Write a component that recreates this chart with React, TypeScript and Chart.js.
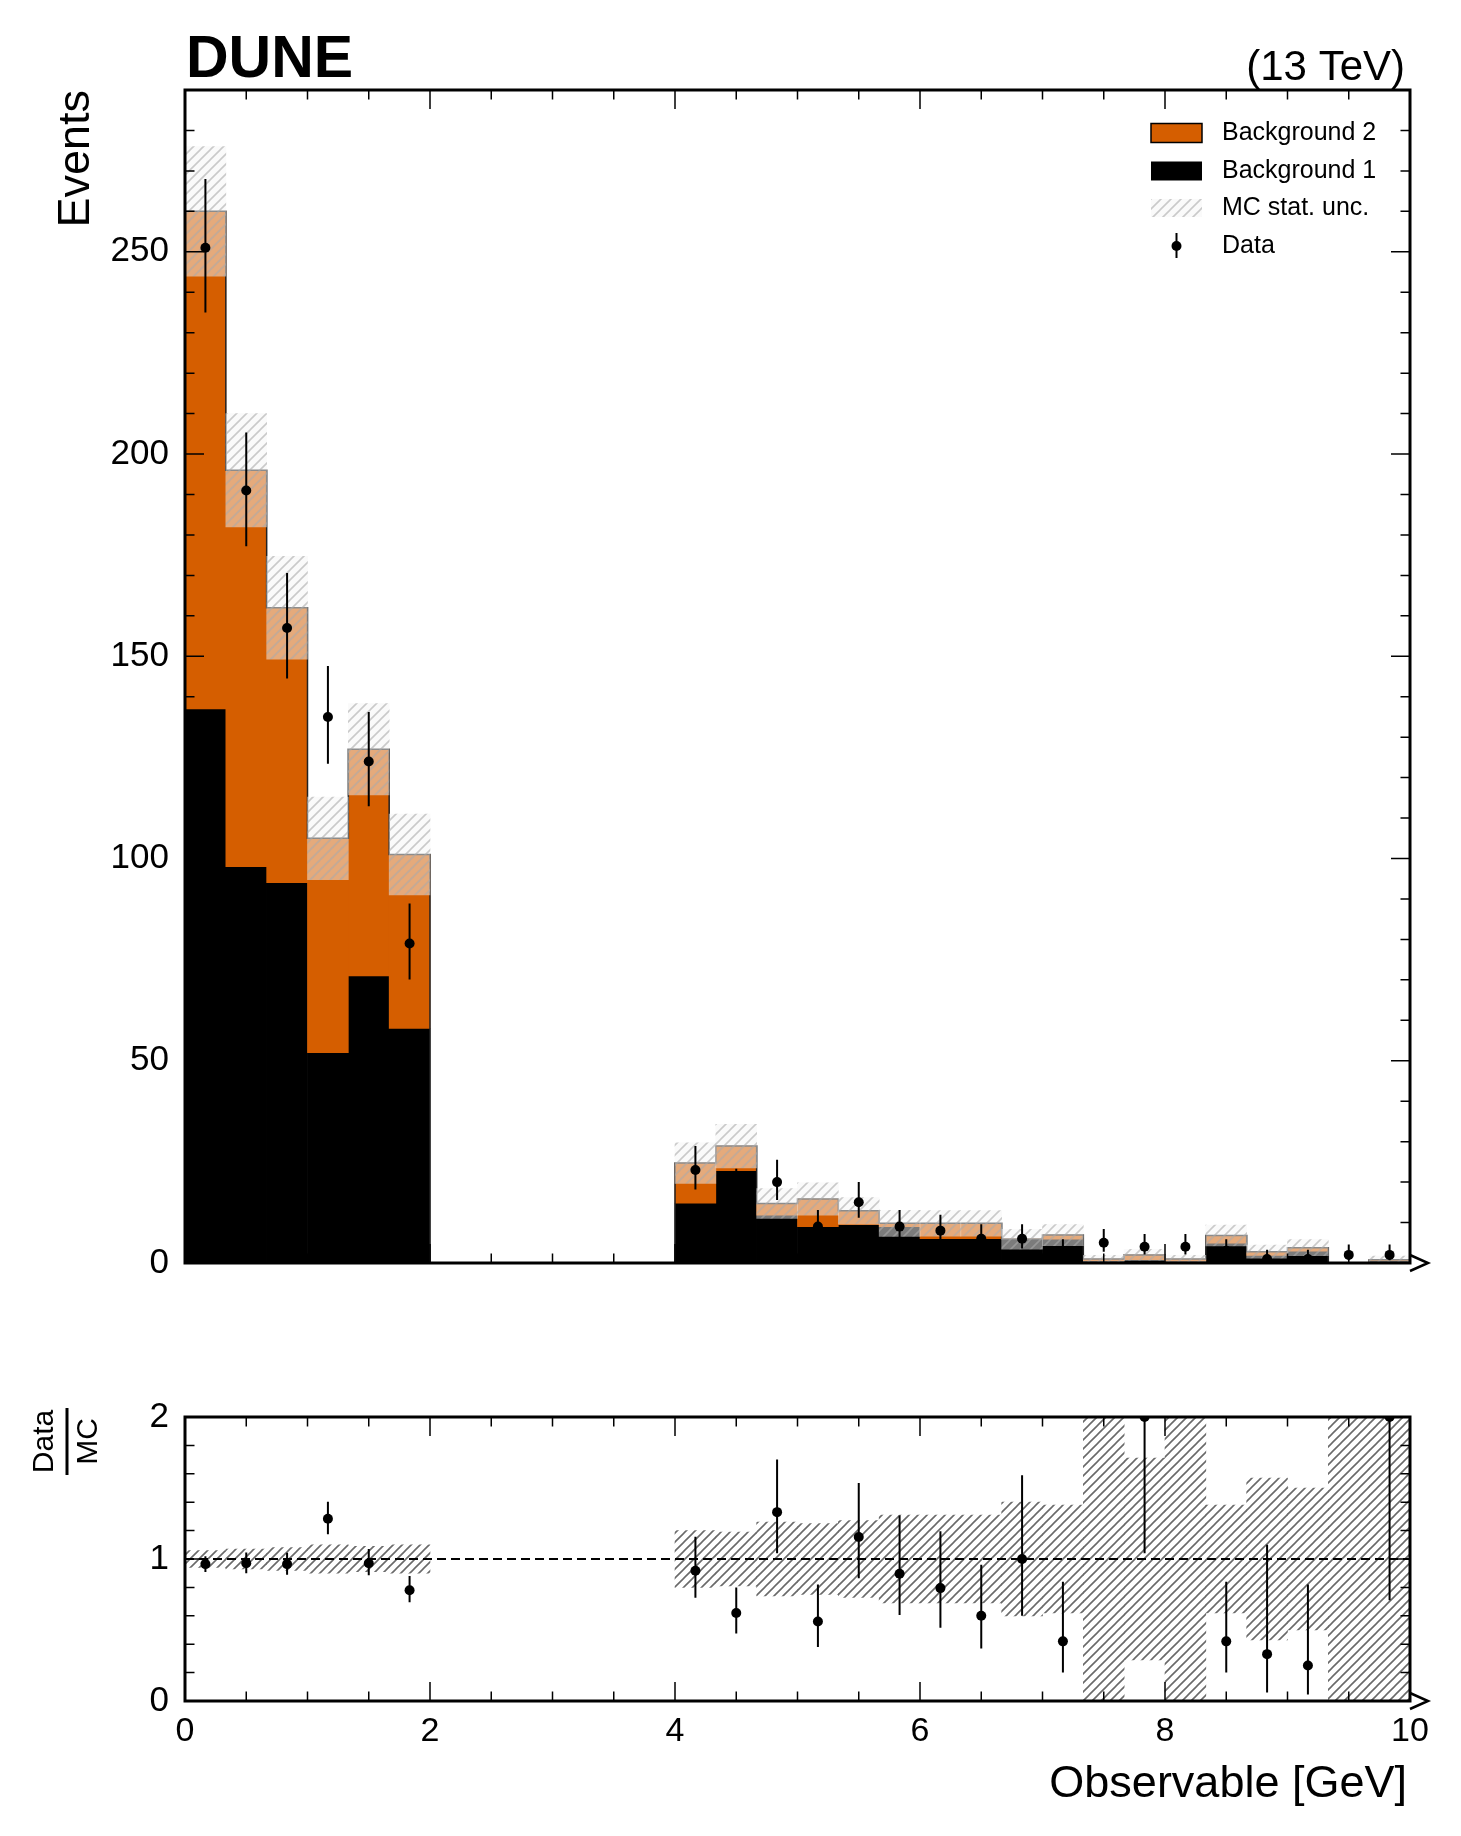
import { useEffect, useRef } from "react"
import Chart from "chart.js/auto"

const FONT = '"Liberation Sans", Arial, Helvetica, sans-serif'
const ORANGE = "#d55e00"

// 30 bins of the observable [GeV]
const binEdges = [
  0, 0.3333, 0.6667, 1, 1.3333, 1.6667, 2, 2.3333, 2.6667, 3, 3.3333, 3.6667,
  4, 4.3333, 4.6667, 5, 5.3333, 5.6667, 6, 6.3333, 6.6667, 7, 7.3333, 7.6667,
  8, 8.3333, 8.6667, 9, 9.3333, 9.6667, 10,
]

const background1 = [
  137, 98, 94, 52, 71, 58, 0, 0, 0, 0, 0, 0,
  14.8, 22.8, 11.8, 9.0, 9.5, 9.0, 6.0, 6.0, 5.9, 5.9, 0.6, 0.8, 0.5, 4.9, 1.9, 2.9, 0, 0.6,
]
const background2 = [
  123, 98, 68, 53, 56, 43, 0, 0, 0, 0, 0, 0,
  9.9, 6.1, 2.9, 6.8, 3.4, 0.8, 3.8, 3.8, 0, 1.0, 0.4, 1.2, 0.5, 1.9, 0.9, 0.9, 0, 0.2,
]
const mcStatUnc = [
  16, 14, 12.7, 10.2, 11.3, 10, 0, 0, 0, 0, 0, 0,
  5.0, 5.4, 3.7, 4.0, 3.3, 3.2, 3.15, 3.15, 2.45, 2.6, 0.9, 1.35, 0.9, 2.6, 1.6, 2.0, 0, 0.9,
]
const dataCounts = [
  251, 191, 157, 135, 124, 79, null, null, null, null, null, null,
  23, 18, 20, 9, 15, 9, 8, 6, 6, 3, 5, 4, 4, 3, 1, 1, 2, 2,
]
const dataErrUp = [
  17, 14.3, 13.6, 12.6, 12.2, 9.9, 0, 0, 0, 0, 0, 0,
  5.9, 5.3, 5.5, 4.1, 5.0, 4.1, 3.9, 3.6, 3.6, 2.9, 3.4, 3.2, 3.2, 2.9, 2.3, 2.3, 2.6, 2.6,
]
const dataErrDown = [
  16, 13.8, 12.5, 11.6, 11.1, 8.9, 0, 0, 0, 0, 0, 0,
  4.8, 4.2, 4.4, 2.9, 3.8, 2.9, 2.8, 2.4, 2.4, 1.6, 2.2, 1.9, 1.9, 1.6, 0.8, 0.8, 1.3, 1.3,
]

// Data / MC panel
const ratioValues = [
  0.964, 0.97, 0.964, 1.284, 0.97, 0.78, null, null, null, null, null, null,
  0.917, 0.62, 1.33, 0.56, 1.155, 0.896, 0.795, 0.6, 1.0, 0.42, null, 2.0, null, 0.42, 0.33, 0.25, null, 2.0,
]
const ratioErrUp = [
  0.055, 0.075, 0.08, 0.12, 0.1, 0.1, 0, 0, 0, 0, 0, 0,
  0.24, 0.18, 0.37, 0.26, 0.38, 0.41, 0.4, 0.36, 0.59, 0.42, 0, 0.9, 0, 0.42, 0.77, 0.57, 0, 0.9,
]
const ratioErrDown = [
  0.055, 0.07, 0.075, 0.11, 0.085, 0.085, 0, 0, 0, 0, 0, 0,
  0.19, 0.145, 0.29, 0.18, 0.29, 0.29, 0.28, 0.23, 0.4, 0.22, 0, 0.96, 0, 0.22, 0.27, 0.205, 0, 1.29,
]
const ratioBandUnc = [
  0.06, 0.07, 0.08, 0.1, 0.09, 0.1, 0, 0, 0, 0, 0, 0,
  0.2, 0.19, 0.26, 0.25, 0.27, 0.31, 0.31, 0.31, 0.4, 0.38, 1.0, 0.71, 1.0, 0.38, 0.57, 0.5, 1.0, 1.0,
]

const mainYTicks = [0, 50, 100, 150, 200, 250]
const ratioYTicks = [0, 1, 2]
const xTicks = [0, 2, 4, 6, 8, 10]

const centers = binEdges.slice(0, -1).map((e, i) => (e + binEdges[i + 1]) / 2)
const totals = background1.map((b, i) => b + background2[i])

function hatch(ctx: CanvasRenderingContext2D, size: number, fill: string | null, stroke: string, lw: number) {
  const c = document.createElement("canvas")
  c.width = size
  c.height = size
  const g = c.getContext("2d")!
  if (fill) {
    g.fillStyle = fill
    g.fillRect(0, 0, size, size)
  }
  g.strokeStyle = stroke
  g.lineWidth = lw
  g.beginPath()
  g.moveTo(0, size); g.lineTo(size, 0)
  g.moveTo(-size / 2, size / 2); g.lineTo(size / 2, -size / 2)
  g.moveTo(size / 2, size * 1.5); g.lineTo(size * 1.5, size / 2)
  g.stroke()
  return ctx.createPattern(c, "repeat")!
}

function drawFrame(chart: any, yTicks: number[], yMinor: number) {
  const { ctx, chartArea: a } = chart
  const xs = chart.scales.x
  const ys = chart.scales.y
  ctx.save()
  ctx.strokeStyle = "#000"
  ctx.lineWidth = 1.5
  ctx.beginPath()
  const nx = Math.round((xs.max - xs.min) / 0.5)
  for (let i = 0; i <= nx; i++) {
    const v = xs.min + i * 0.5
    const p = xs.getPixelForValue(v)
    const len = xTicks.some((t) => Math.abs(t - v) < 1e-6) ? 19 : 9.5
    ctx.moveTo(p, a.bottom); ctx.lineTo(p, a.bottom - len)
    ctx.moveTo(p, a.top); ctx.lineTo(p, a.top + len)
  }
  const ny = Math.floor((ys.max - ys.min) / yMinor + 1e-6)
  for (let i = 0; i <= ny; i++) {
    const v = ys.min + i * yMinor
    const p = ys.getPixelForValue(v)
    const len = yTicks.some((t) => Math.abs(t - v) < 1e-6) ? 19 : 9.5
    ctx.moveTo(a.left, p); ctx.lineTo(a.left + len, p)
    ctx.moveTo(a.right, p); ctx.lineTo(a.right - len, p)
  }
  ctx.stroke()
  ctx.lineWidth = 3
  ctx.strokeRect(a.left, a.top, a.right - a.left, a.bottom - a.top)
  ctx.lineWidth = 2.5
  ctx.beginPath()
  ctx.moveTo(a.right, a.bottom - 8)
  ctx.lineTo(a.right + 18, a.bottom)
  ctx.lineTo(a.right, a.bottom + 8)
  ctx.stroke()
  ctx.restore()
}

function drawErrors(chart: any, vals: (number | null)[], up: number[], down: number[]) {
  const { ctx, chartArea: a } = chart
  const xs = chart.scales.x
  const ys = chart.scales.y
  ctx.save()
  ctx.beginPath()
  ctx.rect(a.left, a.top, a.right - a.left, a.bottom - a.top)
  ctx.clip()
  ctx.strokeStyle = "#000"
  ctx.lineWidth = 2
  ctx.beginPath()
  vals.forEach((v, i) => {
    if (v == null) return
    const px = xs.getPixelForValue(centers[i])
    ctx.moveTo(px, ys.getPixelForValue(v + up[i]))
    ctx.lineTo(px, ys.getPixelForValue(v - down[i]))
  })
  ctx.stroke()
  ctx.restore()
}

const noAxis = { display: false, drawTicks: false }

export default function App() {
  const mainRef = useRef<HTMLCanvasElement>(null)
  const ratioRef = useRef<HTMLCanvasElement>(null)

  useEffect(() => {
    if (!mainRef.current || !ratioRef.current) return
    const mctx = mainRef.current.getContext("2d")!
    const rctx = ratioRef.current.getContext("2d")!
    const bandPattern = hatch(mctx, 10, "rgba(245,245,245,0.5)", "rgba(170,170,170,0.6)", 1.6)
    const legendPattern = hatch(mctx, 10, "rgba(245,245,245,0.5)", "rgba(170,170,170,0.6)", 1.6)
    const ratioPattern = hatch(rctx, 9, null, "#6a6a6a", 1.6)

    const barCommon = { grouped: false, barPercentage: 1, categoryPercentage: 1, borderWidth: 0 }

    const main = new Chart(mainRef.current, {
      type: "bar",
      data: {
        datasets: [
          {
            ...barCommon,
            label: "Background 1",
            data: centers.map((x, i) => ({ x, y: [0, background1[i]] })) as any,
            backgroundColor: "#000",
            order: 5,
          },
          {
            ...barCommon,
            label: "Background 2",
            data: centers.map((x, i) => ({ x, y: [background1[i], totals[i]] })) as any,
            backgroundColor: ORANGE,
            order: 4,
          },
          {
            type: "line",
            label: "outline",
            data: [
              ...binEdges.slice(0, -1).map((x, i) => ({ x, y: totals[i] })),
              { x: binEdges[binEdges.length - 1], y: totals[totals.length - 1] },
            ],
            stepped: true,
            borderColor: "#222",
            borderWidth: 1.5,
            pointRadius: 0,
            fill: false,
            order: 3,
          } as any,
          {
            ...barCommon,
            label: "MC stat. unc.",
            data: centers
              .map((x, i) => ({ x, y: [totals[i] - mcStatUnc[i], totals[i] + mcStatUnc[i]], u: mcStatUnc[i] }))
              .filter((d) => d.u > 0) as any,
            backgroundColor: bandPattern,
            order: 2,
          },
          {
            type: "scatter",
            label: "Data",
            data: centers
              .map((x, i) => ({ x, y: dataCounts[i] }))
              .filter((d) => d.y != null) as any,
            backgroundColor: "#000",
            borderWidth: 0,
            pointRadius: 5,
            order: 1,
          } as any,
        ],
      },
      options: {
        animation: false,
        responsive: false,
        events: [],
        layout: { padding: { top: 90, right: 51, bottom: 25, left: 0 } },
        plugins: { legend: { display: false }, tooltip: { enabled: false } },
        scales: {
          x: { type: "linear", min: 0, max: 10, display: false, offset: false, grid: { offset: false } },
          y: {
            type: "linear",
            min: 0,
            max: 290,
            grid: noAxis,
            border: { display: false },
            ticks: { font: { family: FONT, size: 35 }, color: "#000", padding: 16 },
            afterBuildTicks: (s: any) => { s.ticks = mainYTicks.map((v) => ({ value: v })) },
            afterFit: (s: any) => { s.width = 185 },
          },
        },
      },
      plugins: [
        {
          id: "mainDecor",
          afterDatasetsDraw: (c: any) => drawErrors(c, dataCounts, dataErrUp, dataErrDown),
          afterDraw: (c: any) => {
            drawFrame(c, mainYTicks, 10)
            const ctx = c.ctx as CanvasRenderingContext2D
            ctx.save()
            ctx.fillStyle = "#000"
            ctx.textBaseline = "alphabetic"
            ctx.font = `bold 59px ${FONT}`
            ctx.textAlign = "left"
            ctx.fillText("DUNE", 186, 77)
            ctx.font = `42px ${FONT}`
            ctx.textAlign = "right"
            ctx.fillText("(13 TeV)", 1405, 80)
            ctx.save()
            ctx.translate(89, 90)
            ctx.rotate(-Math.PI / 2)
            ctx.font = `45px ${FONT}`
            ctx.textAlign = "right"
            ctx.fillText("Events", 0, 0)
            ctx.restore()

            // legend
            const lx = 1151, lw = 51, tx = 1222
            const rows = [133, 171, 208, 246]
            ctx.fillStyle = ORANGE
            ctx.fillRect(lx, rows[0] - 9.5, lw, 19)
            ctx.strokeStyle = "#000"
            ctx.lineWidth = 1.5
            ctx.strokeRect(lx, rows[0] - 9.5, lw, 19)
            ctx.fillStyle = "#000"
            ctx.fillRect(lx, rows[1] - 9.5, lw, 19)
            ctx.fillStyle = legendPattern
            ctx.fillRect(lx, rows[2] - 9, lw, 18)
            ctx.lineWidth = 2
            ctx.beginPath()
            ctx.moveTo(lx + lw / 2, rows[3] - 13)
            ctx.lineTo(lx + lw / 2, rows[3] + 12)
            ctx.stroke()
            ctx.fillStyle = "#000"
            ctx.beginPath()
            ctx.arc(lx + lw / 2, rows[3], 5, 0, Math.PI * 2)
            ctx.fill()
            ctx.font = `25px ${FONT}`
            ctx.textAlign = "left"
            ctx.textBaseline = "middle"
            ;["Background 2", "Background 1", "MC stat. unc.", "Data"].forEach((t, i) => {
              ctx.fillText(t, tx, rows[i])
            })
            ctx.restore()
          },
        },
      ],
    })

    const ratio = new Chart(ratioRef.current, {
      type: "bar",
      data: {
        datasets: [
          {
            ...barCommon,
            label: "MC stat. unc.",
            data: centers
              .map((x, i) => ({ x, y: [1 - ratioBandUnc[i], 1 + ratioBandUnc[i]], u: ratioBandUnc[i] }))
              .filter((d) => d.u > 0) as any,
            backgroundColor: ratioPattern,
            order: 2,
          },
          {
            type: "scatter",
            label: "Data/MC",
            data: centers
              .map((x, i) => ({ x, y: ratioValues[i] }))
              .filter((d) => d.y != null) as any,
            backgroundColor: "#000",
            borderWidth: 0,
            pointRadius: 5,
            order: 1,
          } as any,
        ],
      },
      options: {
        animation: false,
        responsive: false,
        events: [],
        layout: { padding: { top: 26, right: 51, bottom: 0, left: 0 } },
        plugins: { legend: { display: false }, tooltip: { enabled: false } },
        scales: {
          x: {
            type: "linear",
            min: 0,
            max: 10,
            offset: false,
            grid: { display: false, drawTicks: false, offset: false },
            border: { display: false },
            ticks: { font: { family: FONT, size: 34 }, color: "#000", padding: 10, maxRotation: 0, autoSkip: false },
            afterBuildTicks: (s: any) => { s.ticks = xTicks.map((v) => ({ value: v })) },
            afterFit: (s: any) => { s.height = 135 },
          },
          y: {
            type: "linear",
            min: 0,
            max: 2,
            grid: noAxis,
            border: { display: false },
            ticks: { font: { family: FONT, size: 35 }, color: "#000", padding: 16 },
            afterBuildTicks: (s: any) => { s.ticks = ratioYTicks.map((v) => ({ value: v })) },
            afterFit: (s: any) => { s.width = 185 },
          },
        },
      },
      plugins: [
        {
          id: "ratioDecor",
          afterDatasetsDraw: (c: any) => {
            const ctx = c.ctx as CanvasRenderingContext2D
            const a = c.chartArea
            const py = c.scales.y.getPixelForValue(1)
            ctx.save()
            ctx.strokeStyle = "#000"
            ctx.lineWidth = 2
            ctx.setLineDash([9, 5])
            ctx.beginPath()
            ctx.moveTo(a.left, py)
            ctx.lineTo(a.right, py)
            ctx.stroke()
            ctx.restore()
            drawErrors(c, ratioValues, ratioErrUp, ratioErrDown)
          },
          afterDraw: (c: any) => {
            drawFrame(c, ratioYTicks, 0.2)
            const ctx = c.ctx as CanvasRenderingContext2D
            ctx.save()
            ctx.fillStyle = "#000"
            ctx.strokeStyle = "#000"
            ctx.font = `45px ${FONT}`
            ctx.textAlign = "right"
            ctx.textBaseline = "alphabetic"
            ctx.fillText("Observable [GeV]", 1407, 417)
            ctx.translate(67, 61.5)
            ctx.rotate(-Math.PI / 2)
            ctx.font = `30px ${FONT}`
            ctx.textAlign = "center"
            ctx.fillText("Data", 0, -14)
            ctx.fillText("MC", 0, 30)
            ctx.lineWidth = 3
            ctx.beginPath()
            ctx.moveTo(-33.5, 0)
            ctx.lineTo(33.5, 0)
            ctx.stroke()
            ctx.restore()
          },
        },
      ],
    })

    return () => {
      main.destroy()
      ratio.destroy()
    }
  }, [])

  return (
    <div style={{ position: "absolute", left: 0, top: 0, width: 1461, height: 1836, background: "#fff" }}>
      <canvas
        ref={mainRef}
        width={1461}
        height={1300}
        style={{ position: "absolute", left: 0, top: 0, width: 1461, height: 1300 }}
      />
      <canvas
        ref={ratioRef}
        width={1461}
        height={456}
        style={{ position: "absolute", left: 0, top: 1380, width: 1461, height: 456 }}
      />
    </div>
  )
}
